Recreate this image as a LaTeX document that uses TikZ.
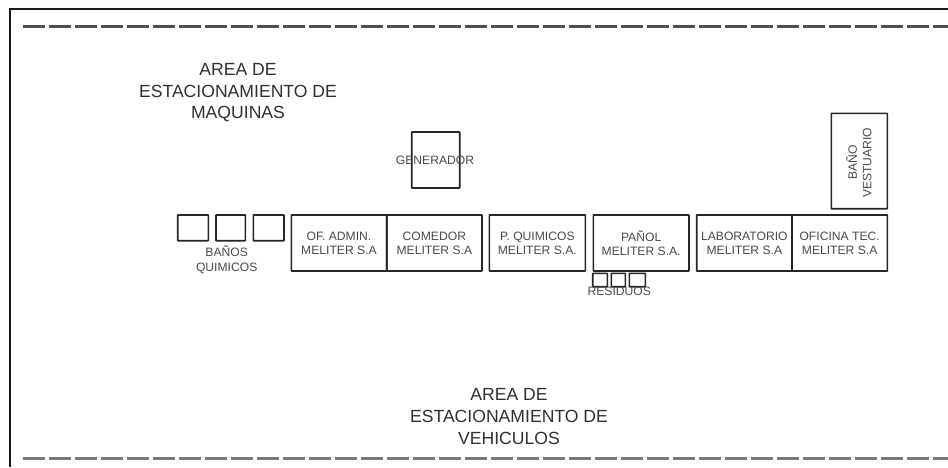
\documentclass[tikz,border=0pt]{standalone}
\usepackage{fontspec}
\setmainfont{Liberation Sans}
\definecolor{smalltext}{HTML}{4A4A4A}
\definecolor{bigtext}{HTML}{303030}
\definecolor{dashtop}{HTML}{505050}
\definecolor{dashbot}{HTML}{7A7A7A}
\tikzset{
  x=0.75pt,y=-0.75pt,
  room/.style={draw=black!85,line width=1.2pt,inner sep=0pt,outer sep=0pt,rounded corners=0.3pt},
  smalllabel/.style={font=\fontsize{9.1}{10.9}\selectfont,text=smalltext,align=center,inner sep=0pt},
  biglabel/.style={font=\fontsize{13.2}{16.2}\selectfont,text=bigtext,align=center,inner sep=0pt},
  frameline/.style={draw=black!90,line width=1.2pt},
  fence/.style={line width=2pt,dash pattern=on 16.5pt off 3pt}
}
\newcommand{\roomat}[5]{\node[room,minimum width=#4*0.75pt-#2*0.75pt,minimum height=#5*0.75pt-#3*0.75pt,anchor=north west] (#1) at (#2,#3) {};}
\begin{document}
\begin{tikzpicture}
\useasboundingbox (0,0) rectangle (948,467);
\fill[white] (0,0) rectangle (948,467);
\coordinate (fbl) at (10,467);
\coordinate (ftl) at (10,9);
\coordinate (ftr) at (948,9);
\draw[frameline] (fbl) -- (ftl) -- (ftr);
\coordinate (dtl) at (23,26.5);
\coordinate (dtr) at (948,26.5);
\coordinate (dbl) at (23,458.5);
\coordinate (dbr) at (948,458.5);
\draw[fence,draw=dashtop] (dtl) -- (dtr);
\draw[fence,draw=dashbot] (dbl) -- (dbr);

\roomat{gen}{411.7}{132}{459.7}{188}
\roomat{wca}{177.7}{215}{208.3}{240.7}
\roomat{wcb}{216}{215}{245.3}{240.7}
\roomat{wcc}{253.3}{215}{284}{240.7}
\roomat{ofadm}{291.3}{215}{386.7}{271}
\roomat{com}{386.7}{215}{482}{271}
\roomat{pqui}{489.3}{215}{585.3}{271}
\roomat{panol}{593.3}{215}{689}{271}
\roomat{lab}{696.7}{215}{792}{271}
\roomat{oftec}{792}{215}{887.3}{271}
\roomat{vest}{831.3}{113.3}{887.3}{208.7}
\roomat{resa}{592.7}{273.3}{607.3}{286.7}
\roomat{resb}{611.3}{273.3}{625.3}{286.7}
\roomat{resc}{629.3}{273.3}{645.3}{286.7}

\node[smalllabel] (lgen) at (435,160) {GENERADOR};
\node[smalllabel] (lwc) at (226.7,259.7) {BAÑOS\\QUIMICOS};
\node[smalllabel] (lofadm) at (ofadm.center) [yshift=-0.2pt] {OF. ADMIN.\\MELITER S.A};
\node[smalllabel] (lcom) at (com.center) [yshift=-0.2pt] {COMEDOR\\MELITER S.A};
\node[smalllabel] (lpqui) at (pqui.center) [yshift=-0.2pt] {P. QUIMICOS\\MELITER S.A.};
\node[smalllabel] (lpanol) at (panol.center) [yshift=-0.2pt] {PAÑOL\\MELITER S.A.};
\node[smalllabel] (llab) at (lab.center) [yshift=-0.2pt] {LABORATORIO\\MELITER S.A};
\node[smalllabel] (loftec) at (oftec.center) [yshift=-0.2pt] {OFICINA TEC.\\MELITER S.A};
\node[smalllabel] (lres) at (619.3,291.7) {RESIDUOS};
\node[smalllabel,rotate=90] (lvest) at (858.8,162.7) {BAÑO\\VESTUARIO};
\node[biglabel] (lmaq) at (238,92.8) {AREA DE\\ESTACIONAMIENTO DE\\MAQUINAS};
\node[biglabel] (lveh) at (509,416.5) {AREA DE\\ESTACIONAMIENTO DE\\VEHICULOS};
\end{tikzpicture}
\end{document}
